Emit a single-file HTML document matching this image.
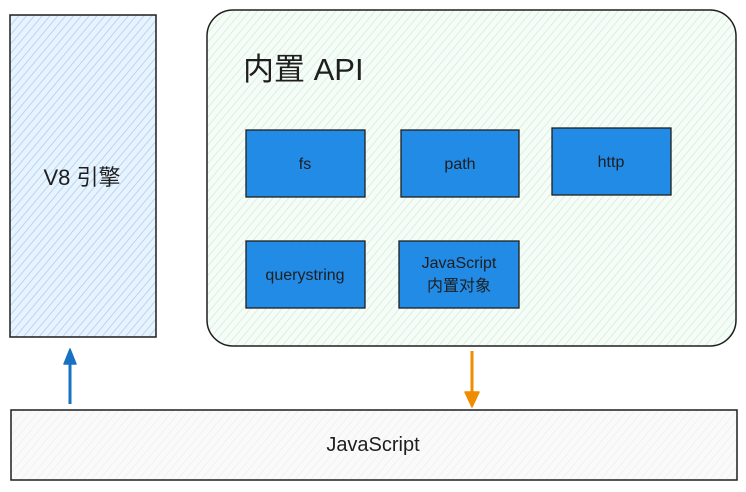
<!DOCTYPE html>
<html><head><meta charset="utf-8"><style>
body{margin:0;width:746px;height:492px;background:#fff;overflow:hidden}
svg{display:block}
text{font-family:"Liberation Sans","Noto Sans CJK SC",sans-serif;fill:#1e1e1e}
</style></head><body>
<svg width="746" height="492" viewBox="0 0 746 492">
<defs>
<pattern id="hb" width="6" height="6" patternUnits="userSpaceOnUse" patternTransform="rotate(40)">
<rect width="6" height="6" fill="#e8f3fd"/><line x1="0" y1="0" x2="0" y2="6" stroke="#a5d1f6" stroke-width="1.6"/></pattern>
<pattern id="hg" width="6" height="6" patternUnits="userSpaceOnUse" patternTransform="rotate(40)">
<rect width="6" height="6" fill="#f6fcf7"/><line x1="0" y1="0" x2="0" y2="6" stroke="#cdeed3" stroke-width="1.4"/></pattern>
<pattern id="hw" width="6" height="6" patternUnits="userSpaceOnUse" patternTransform="rotate(40)">
<rect width="6" height="6" fill="#fafafa"/><line x1="0" y1="0" x2="0" y2="6" stroke="#ececec" stroke-width="1.2"/></pattern>
</defs>
<rect x="10" y="15" width="146" height="322" fill="url(#hb)" stroke="#1e1e1e" stroke-width="1.5"/>
<text x="82" y="185" font-size="22" text-anchor="middle">V8 引擎</text>
<rect x="207" y="10" width="529" height="336" rx="26" fill="url(#hg)" stroke="#1e1e1e" stroke-width="1.5"/>
<text x="243" y="80" font-size="31">内置 API</text>
<g fill="#228be6" stroke="#1e1e1e" stroke-width="1.3">
<rect x="246" y="130" width="119" height="67"/>
<rect x="401" y="130" width="118" height="67"/>
<rect x="552" y="128" width="119" height="67"/>
<rect x="246" y="241" width="119" height="67"/>
<rect x="399" y="241" width="120" height="67"/>
</g>
<g font-size="16" text-anchor="middle">
<text x="305" y="169">fs</text>
<text x="460" y="169">path</text>
<text x="611" y="167">http</text>
<text x="305" y="280">querystring</text>
<text x="459" y="268">JavaScript</text>
<text x="459" y="291">内置对象</text>
</g>
<rect x="11" y="410" width="726" height="70" fill="url(#hw)" stroke="#1e1e1e" stroke-width="1.5"/>
<text x="373" y="451" font-size="20" text-anchor="middle">JavaScript</text>
<g stroke="#1971c2" stroke-width="3" fill="#1971c2" stroke-linejoin="round">
<line x1="70" y1="404" x2="70" y2="360"/><path d="M64 364 L70 349 L76 364 Z" stroke-width="1.5"/></g>
<g stroke="#f08c00" stroke-width="3" fill="#f08c00" stroke-linejoin="round">
<line x1="472" y1="351" x2="472" y2="395"/><path d="M465 392 L472 407 L479 392 Z" stroke-width="1.5"/></g>
</svg>
</body></html>
